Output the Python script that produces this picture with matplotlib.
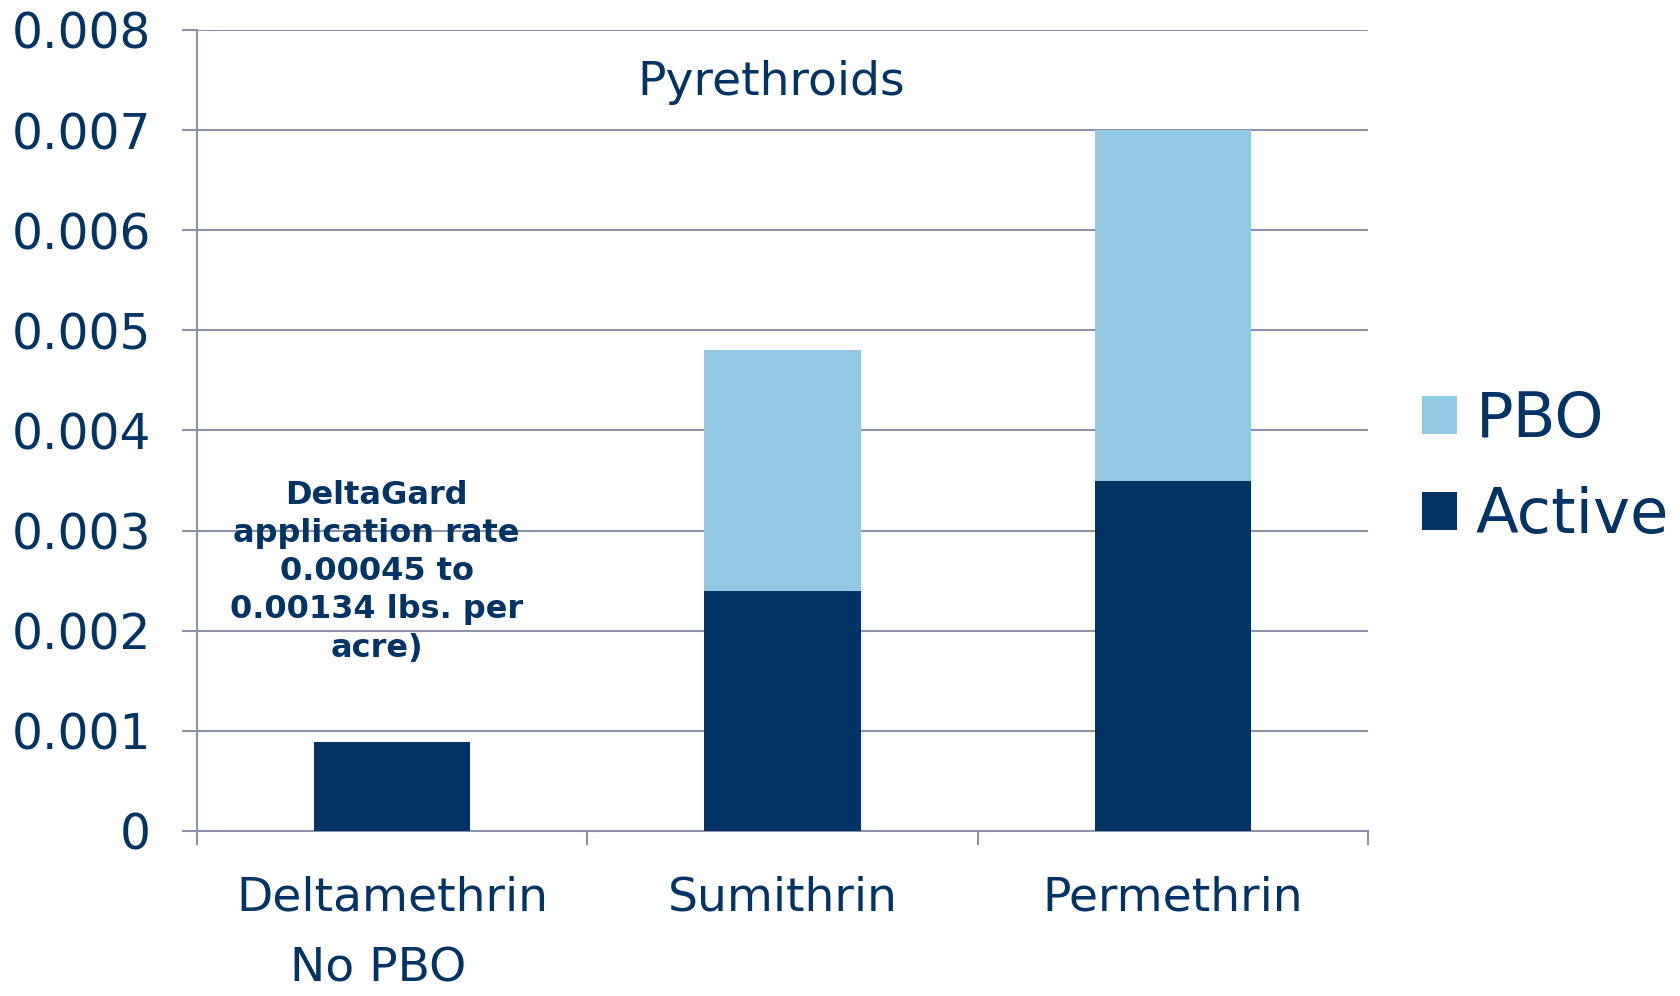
import numpy as np
import matplotlib
matplotlib.use("Agg")
import matplotlib.pyplot as plt
import matplotlib.transforms as mtransforms

categories = ["Deltamethrin", "Sumithrin", "Permethrin"]
sub_label = "No PBO"
active = [0.00089, 0.0024, 0.0035]
pbo = [0.0, 0.0024, 0.0035]
y_ticks = [0, 0.001, 0.002, 0.003, 0.004, 0.005, 0.006, 0.007, 0.008]
y_labels = ["0", "0.001", "0.002", "0.003", "0.004", "0.005", "0.006", "0.007", "0.008"]

NAVY = "#003366"
LIGHT = "#93C8E3"
GRID = "#8C93A8"

fig = plt.figure(figsize=(16.8, 9.96), dpi=100)
ax = fig.add_axes([0.1173, 0.1657, 0.697, 0.8042])

x = np.arange(len(categories))
ax.bar(x, active, width=0.4, color=NAVY, label="Active", zorder=3)
ax.bar(x, pbo, width=0.4, bottom=active, color=LIGHT, label="PBO", zorder=3)

ax.set_xlim(-0.5, 2.5)
ax.set_ylim(0, 0.008)
ax.set_yticks(y_ticks)
ax.set_yticklabels(y_labels)
ax.set_xticks(x)
ax.set_xticklabels(categories)
ax.set_xticks([-0.5, 0.5, 1.5, 2.5], minor=True)

ax.yaxis.grid(True, color=GRID, linewidth=1.5, zorder=0)
ax.set_axisbelow(True)
for side in ["top", "right"]:
    ax.spines[side].set_visible(False)
for side in ["left", "bottom"]:
    ax.spines[side].set_color(GRID)
    ax.spines[side].set_linewidth(1.5)

ax.tick_params(axis="y", length=11, width=1.5, color=GRID, pad=22,
               labelsize=35, labelcolor=NAVY)
ax.tick_params(axis="x", which="major", length=0, pad=32,
               labelsize=34, labelcolor=NAVY)
ax.tick_params(axis="x", which="minor", length=10, width=1.5, color=GRID)

# second line under the first category
trans = mtransforms.blended_transform_factory(ax.transData, ax.transAxes)
ax.text(-0.036, -0.172, sub_label, transform=trans, ha="center", va="center",
        fontsize=34, color=NAVY)

ax.text(0.49, 0.935, "Pyrethroids", transform=ax.transAxes, ha="center",
        va="center", fontsize=34, color=NAVY)

ax.text(-0.04, 0.00259,
        "DeltaGard\napplication rate\n0.00045 to\n0.00134 lbs. per\nacre)",
        ha="center", va="center", fontsize=23, fontweight="bold",
        color=NAVY, linespacing=1.3)

handles, labels = ax.get_legend_handles_labels()
ax.legend(handles[::-1], labels[::-1], loc="center left",
          bbox_to_anchor=(1.046, 0.453), frameon=False, fontsize=45,
          labelcolor=NAVY, handlelength=0.56, handleheight=0.56,
          handletextpad=0.3, labelspacing=0.58, borderpad=0,
          borderaxespad=0)

fig.savefig("out.png", dpi=100)
